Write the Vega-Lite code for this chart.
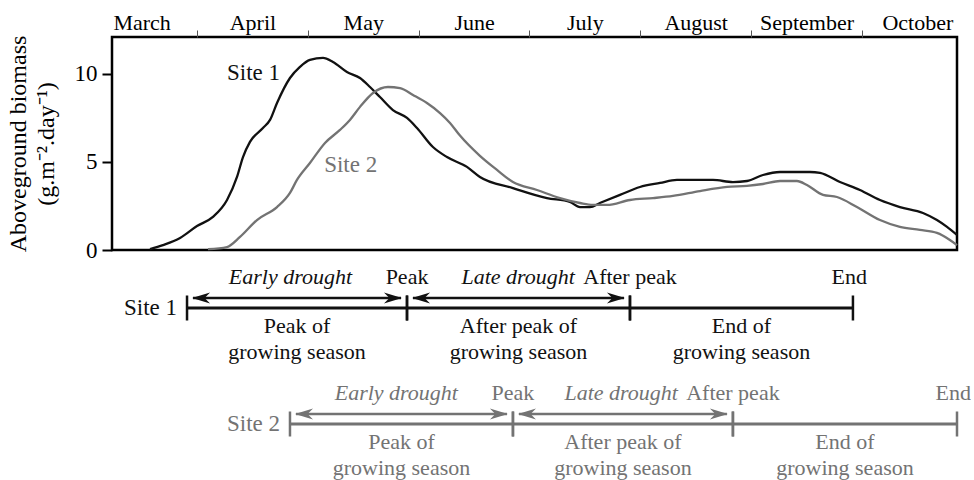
{
  "$schema": "https://vega.github.io/schema/vega-lite/v6.json",
  "padding": {"left": 4, "top": 9, "right": 0, "bottom": 0},
  "background": "white",
  "config": {"font": "Liberation Serif", "text": {"font": "Liberation Serif"}, "view": {"stroke": "black", "strokeWidth": 2.5}},
  "spacing": 0,
  "bounds": "flush",
  "datasets": {
    "curves": [
      {"site": "Site 1", "t": 0.576, "value": 0.05},
      {"site": "Site 1", "t": 0.693, "value": 0.28},
      {"site": "Site 1", "t": 0.847, "value": 0.68},
      {"site": "Site 1", "t": 1.0, "value": 1.36},
      {"site": "Site 1", "t": 1.144, "value": 1.88},
      {"site": "Site 1", "t": 1.271, "value": 2.84},
      {"site": "Site 1", "t": 1.361, "value": 4.15},
      {"site": "Site 1", "t": 1.415, "value": 5.28},
      {"site": "Site 1", "t": 1.478, "value": 6.14},
      {"site": "Site 1", "t": 1.595, "value": 6.93},
      {"site": "Site 1", "t": 1.659, "value": 7.39},
      {"site": "Site 1", "t": 1.722, "value": 8.35},
      {"site": "Site 1", "t": 1.839, "value": 9.77},
      {"site": "Site 1", "t": 1.929, "value": 10.4},
      {"site": "Site 1", "t": 2.019, "value": 10.8},
      {"site": "Site 1", "t": 2.137, "value": 10.91},
      {"site": "Site 1", "t": 2.227, "value": 10.68},
      {"site": "Site 1", "t": 2.353, "value": 10.11},
      {"site": "Site 1", "t": 2.471, "value": 9.77},
      {"site": "Site 1", "t": 2.561, "value": 9.26},
      {"site": "Site 1", "t": 2.651, "value": 8.69},
      {"site": "Site 1", "t": 2.768, "value": 7.95},
      {"site": "Site 1", "t": 2.895, "value": 7.5},
      {"site": "Site 1", "t": 2.985, "value": 6.93},
      {"site": "Site 1", "t": 3.129, "value": 5.85},
      {"site": "Site 1", "t": 3.256, "value": 5.28},
      {"site": "Site 1", "t": 3.436, "value": 4.72},
      {"site": "Site 1", "t": 3.553, "value": 4.15},
      {"site": "Site 1", "t": 3.851, "value": 3.52},
      {"site": "Site 1", "t": 4.158, "value": 2.95},
      {"site": "Site 1", "t": 4.365, "value": 2.73},
      {"site": "Site 1", "t": 4.456, "value": 2.44},
      {"site": "Site 1", "t": 4.546, "value": 2.44},
      {"site": "Site 1", "t": 4.636, "value": 2.67},
      {"site": "Site 1", "t": 4.817, "value": 3.13},
      {"site": "Site 1", "t": 4.997, "value": 3.58},
      {"site": "Site 1", "t": 5.178, "value": 3.81},
      {"site": "Site 1", "t": 5.331, "value": 3.98},
      {"site": "Site 1", "t": 5.656, "value": 3.98},
      {"site": "Site 1", "t": 5.836, "value": 3.86},
      {"site": "Site 1", "t": 5.963, "value": 3.92},
      {"site": "Site 1", "t": 6.107, "value": 4.26},
      {"site": "Site 1", "t": 6.261, "value": 4.43},
      {"site": "Site 1", "t": 6.531, "value": 4.43},
      {"site": "Site 1", "t": 6.622, "value": 4.38},
      {"site": "Site 1", "t": 6.802, "value": 3.86},
      {"site": "Site 1", "t": 6.982, "value": 3.41},
      {"site": "Site 1", "t": 7.163, "value": 2.84},
      {"site": "Site 1", "t": 7.343, "value": 2.44},
      {"site": "Site 1", "t": 7.551, "value": 2.1},
      {"site": "Site 1", "t": 7.677, "value": 1.7},
      {"site": "Site 1", "t": 7.768, "value": 1.31},
      {"site": "Site 1", "t": 7.858, "value": 0.85},
      {"site": "Site 2", "t": 1.099, "value": 0.05},
      {"site": "Site 2", "t": 1.271, "value": 0.17},
      {"site": "Site 2", "t": 1.388, "value": 0.74},
      {"site": "Site 2", "t": 1.541, "value": 1.7},
      {"site": "Site 2", "t": 1.722, "value": 2.44},
      {"site": "Site 2", "t": 1.839, "value": 3.24},
      {"site": "Site 2", "t": 1.902, "value": 3.98},
      {"site": "Site 2", "t": 2.019, "value": 4.94},
      {"site": "Site 2", "t": 2.155, "value": 6.08},
      {"site": "Site 2", "t": 2.29, "value": 6.82},
      {"site": "Site 2", "t": 2.38, "value": 7.39},
      {"site": "Site 2", "t": 2.471, "value": 8.13},
      {"site": "Site 2", "t": 2.588, "value": 8.92},
      {"site": "Site 2", "t": 2.723, "value": 9.26},
      {"site": "Site 2", "t": 2.832, "value": 9.2},
      {"site": "Site 2", "t": 2.949, "value": 8.81},
      {"site": "Site 2", "t": 3.075, "value": 8.35},
      {"site": "Site 2", "t": 3.193, "value": 7.78},
      {"site": "Site 2", "t": 3.283, "value": 7.22},
      {"site": "Site 2", "t": 3.373, "value": 6.5},
      {"site": "Site 2", "t": 3.553, "value": 5.35},
      {"site": "Site 2", "t": 3.707, "value": 4.55},
      {"site": "Site 2", "t": 3.851, "value": 3.86},
      {"site": "Site 2", "t": 4.068, "value": 3.41},
      {"site": "Site 2", "t": 4.275, "value": 2.95},
      {"site": "Site 2", "t": 4.456, "value": 2.67},
      {"site": "Site 2", "t": 4.573, "value": 2.56},
      {"site": "Site 2", "t": 4.7, "value": 2.56},
      {"site": "Site 2", "t": 4.907, "value": 2.84},
      {"site": "Site 2", "t": 5.115, "value": 2.95},
      {"site": "Site 2", "t": 5.295, "value": 3.07},
      {"site": "Site 2", "t": 5.539, "value": 3.35},
      {"site": "Site 2", "t": 5.783, "value": 3.58},
      {"site": "Site 2", "t": 5.963, "value": 3.64},
      {"site": "Site 2", "t": 6.107, "value": 3.75},
      {"site": "Site 2", "t": 6.261, "value": 3.92},
      {"site": "Site 2", "t": 6.414, "value": 3.92},
      {"site": "Site 2", "t": 6.504, "value": 3.69},
      {"site": "Site 2", "t": 6.649, "value": 3.13},
      {"site": "Site 2", "t": 6.775, "value": 3.01},
      {"site": "Site 2", "t": 6.955, "value": 2.44},
      {"site": "Site 2", "t": 7.163, "value": 1.7},
      {"site": "Site 2", "t": 7.343, "value": 1.31},
      {"site": "Site 2", "t": 7.523, "value": 1.14},
      {"site": "Site 2", "t": 7.677, "value": 0.97},
      {"site": "Site 2", "t": 7.794, "value": 0.57},
      {"site": "Site 2", "t": 7.858, "value": 0.28}
    ],
    "siteLabels": [
      {"site": "Site 1", "t": 1.51, "value": 10.03},
      {"site": "Site 2", "t": 2.387, "value": 4.83}
    ],
    "phases": [
      {"site": "Site 1", "start": 0.91, "end": 2.895, "phase": "Peak of\ngrowing season", "drought": "Early drought", "endLabel": "Peak"},
      {"site": "Site 1", "start": 2.895, "end": 4.907, "phase": "After peak of\ngrowing season", "drought": "Late drought", "endLabel": "After peak"},
      {"site": "Site 1", "start": 4.907, "end": 6.919, "phase": "End of\ngrowing season", "drought": null, "endLabel": "End"},
      {"site": "Site 2", "start": 1.839, "end": 3.851, "phase": "Peak of\ngrowing season", "drought": "Early drought", "endLabel": "Peak"},
      {"site": "Site 2", "start": 3.851, "end": 5.836, "phase": "After peak of\ngrowing season", "drought": "Late drought", "endLabel": "After peak"},
      {"site": "Site 2", "start": 5.836, "end": 7.858, "phase": "End of\ngrowing season", "drought": null, "endLabel": "End"}
    ]
  },
  "vconcat": [
    {
      "width": 845,
      "height": 213,
      "layer": [
        {
          "data": {"name": "curves"},
          "mark": {"type": "line", "strokeWidth": 2.3, "interpolate": "monotone"},
          "encoding": {
            "x": {
              "field": "t", "type": "quantitative", "title": null,
              "scale": {"domain": [0.233, 7.858], "nice": false, "zero": false},
              "axis": {
                "orient": "top", "grid": false, "domain": false,
                "values": [0.5, 1, 1.5, 2, 2.5, 3, 3.5, 4, 4.5, 5, 5.5, 6, 6.5, 7, 7.5],
                "labelExpr": "datum.value % 1 === 0 ? '' : ['March','April','May','June','July','August','September','October'][floor(datum.value)]",
                "tickSize": 7, "tickWidth": 1, "tickColor": "#555555",
                "tickOpacity": {"condition": {"test": "datum.value % 1 === 0", "value": 1}, "value": 0},
                "labelFont": "Liberation Serif", "labelFontSize": 22, "labelColor": "#000000",
                "labelPadding": 1, "labelBaseline": "alphabetic",
                "labelOverlap": false, "labelFlush": false, "labelBound": false
              }
            },
            "y": {
              "field": "value", "type": "quantitative",
              "title": ["Aboveground biomass", "(g.m⁻².day⁻¹)"],
              "scale": {"domain": [0, 12.1], "nice": false},
              "axis": {
                "values": [0, 5, 10], "grid": false, "domain": false,
                "tickSize": 10, "tickWidth": 2, "tickColor": "#000000",
                "labelFont": "Liberation Serif", "labelFontSize": 23, "labelColor": "#000000", "labelPadding": 5,
                "titleFont": "Liberation Serif", "titleFontSize": 24, "titleFontWeight": "normal",
                "titleColor": "#000000", "titleLineHeight": 28, "titlePadding": 16
              }
            },
            "color": {
              "field": "site", "type": "nominal",
              "scale": {"domain": ["Site 1", "Site 2"], "range": ["#111111", "#737373"]},
              "legend": null
            }
          }
        },
        {
          "data": {"name": "siteLabels"},
          "mark": {"type": "text", "font": "Liberation Serif", "fontSize": 23, "align": "center", "baseline": "middle"},
          "encoding": {
            "x": {"field": "t", "type": "quantitative", "title": null},
            "y": {"field": "value", "type": "quantitative", "title": ["Aboveground biomass", "(g.m⁻².day⁻¹)"]},
            "text": {"field": "site"},
            "color": {"field": "site", "type": "nominal", "legend": null}
          }
        }
      ]
    },
    {
      "width": 845,
      "height": 232,
      "view": {"stroke": null},
      "data": {"name": "phases"},
      "encoding": {
        "y": {"field": "site", "type": "nominal", "scale": {"type": "point", "domain": ["Site 1", "Site 2"], "padding": 0.5}, "axis": null},
        "color": {"field": "site", "type": "nominal", "legend": null}
      },
      "layer": [
        {
          "mark": {"type": "rule", "strokeWidth": 2.8},
          "encoding": {
            "x": {"field": "start", "type": "quantitative", "scale": {"domain": [0.233, 7.858], "nice": false, "zero": false}, "axis": null},
            "x2": {"field": "end"}
          }
        },
        {
          "mark": {"type": "tick", "orient": "vertical", "size": 25, "thickness": 2.5, "opacity": 1},
          "encoding": {"x": {"field": "start", "type": "quantitative"}}
        },
        {
          "mark": {"type": "tick", "orient": "vertical", "size": 25, "thickness": 2.5, "opacity": 1},
          "encoding": {"x": {"field": "end", "type": "quantitative"}}
        },
        {
          "transform": [{"filter": "datum.drought != null"}],
          "mark": {"type": "rule", "strokeWidth": 2.6, "yOffset": -10, "xOffset": 6, "x2Offset": -6},
          "encoding": {"x": {"field": "start", "type": "quantitative"}, "x2": {"field": "end"}}
        },
        {
          "transform": [{"filter": "datum.drought != null"}],
          "mark": {"type": "point", "shape": "M0,0L1,-0.3L0.7,0L1,0.3Z", "filled": true, "size": 1300, "opacity": 1, "strokeWidth": 0, "xOffset": 5, "yOffset": -10},
          "encoding": {"x": {"field": "start", "type": "quantitative"}}
        },
        {
          "transform": [{"filter": "datum.drought != null"}],
          "mark": {"type": "point", "shape": "M0,0L-1,-0.3L-0.7,0L-1,0.3Z", "filled": true, "size": 1300, "opacity": 1, "strokeWidth": 0, "xOffset": -5, "yOffset": -10},
          "encoding": {"x": {"field": "end", "type": "quantitative"}}
        },
        {
          "transform": [{"filter": "datum.drought != null"}],
          "mark": {"type": "text", "font": "Liberation Serif", "fontSize": 22, "fontStyle": "italic", "align": "right", "baseline": "alphabetic", "dx": -55, "dy": -24},
          "encoding": {"x": {"field": "end", "type": "quantitative"}, "text": {"field": "drought"}}
        },
        {
          "transform": [{"filter": "datum.endLabel !== 'End'"}],
          "mark": {"type": "text", "font": "Liberation Serif", "fontSize": 22, "align": "center", "baseline": "alphabetic", "dy": -24},
          "encoding": {"x": {"field": "end", "type": "quantitative"}, "text": {"field": "endLabel"}}
        },
        {
          "transform": [{"filter": "datum.endLabel === 'End'"}],
          "mark": {"type": "text", "font": "Liberation Serif", "fontSize": 22, "align": "right", "baseline": "alphabetic", "dx": 14, "dy": -24},
          "encoding": {"x": {"field": "end", "type": "quantitative"}, "text": {"field": "endLabel"}}
        },
        {
          "transform": [{"calculate": "(datum.start + datum.end) / 2", "as": "mid"}],
          "mark": {"type": "text", "font": "Liberation Serif", "fontSize": 22, "align": "center", "baseline": "alphabetic", "dy": 25, "lineBreak": "\n", "lineHeight": 26},
          "encoding": {"x": {"field": "mid", "type": "quantitative"}, "text": {"field": "phase"}}
        },
        {
          "transform": [{"aggregate": [{"op": "min", "field": "start", "as": "first"}], "groupby": ["site"]}],
          "mark": {"type": "text", "font": "Liberation Serif", "fontSize": 23, "align": "right", "baseline": "alphabetic", "dx": -10, "dy": 7},
          "encoding": {"x": {"field": "first", "type": "quantitative"}, "text": {"field": "site"}}
        }
      ]
    }
  ]
}
